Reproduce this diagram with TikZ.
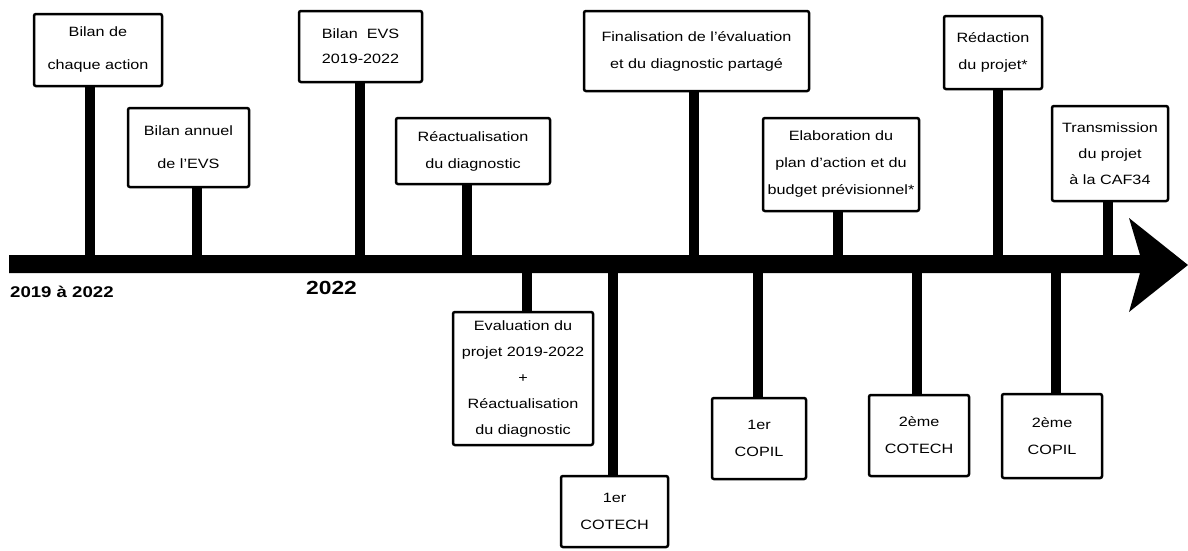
\documentclass[tikz,border=0pt]{standalone}
\usepackage{fontspec}
\setmainfont{Liberation Sans}[FakeStretch=1.2]
\usetikzlibrary{positioning}

\begin{document}
\begin{tikzpicture}[x=1pt,y=-1pt,
    etape/.style={draw,line width=2.5pt,rounded corners=2pt,align=center,inner sep=0pt,
      font=\fontsize{13.5}{27}\selectfont},
    large/.style={font=\fontsize{13.5}{33}\selectfont},
    tige/.style={line width=10pt},
    annee/.style={font=\bfseries\fontsize{15.5}{18}\selectfont,inner sep=0pt}]
    \useasboundingbox (0,0) rectangle (1188,550);

    % axe du temps
    \fill (9,255) -- (1140,255) -- (1129,218) -- (1188,265) -- (1129,312)
      -- (1140,273) -- (9,273) -- cycle;

    \foreach \n/\x in {t1/90,t2/197,t3/360,t4/467,t5/694,t6/838,t7/998,t8/1108,
                       t9/527,t10/613,t11/758,t12/917,t13/1056}
      \coordinate (\n) at (\x,264);

    % au-dessus
    \node[etape,large,minimum width=128pt,minimum height=72pt] (b1) at (98,50) {Bilan de\\chaque action};
    \node[etape,large,minimum width=121pt,minimum height=79pt] (b2) at (188.5,147.5) {Bilan annuel\\de l'EVS};
    \node[etape,minimum width=123pt,minimum height=71pt,font=\fontsize{13.5}{25}\selectfont] (b3) at (360.5,46.5) {Bilan~ EVS\\2019-2022};
    \node[etape,minimum width=154pt,minimum height=66pt] (b4) at (473,151) {Réactualisation\\du diagnostic};
    \node[etape,minimum width=225pt,minimum height=80pt] (b5) at (696.5,51) {Finalisation de l'évaluation\\et du diagnostic partagé};
    \node[etape,minimum width=156pt,minimum height=93pt] (b6) at (841,164.5) {Elaboration du\\plan d'action et du\\budget prévisionnel*};
    \node[etape,minimum width=98pt,minimum height=73pt] (b7) at (993,52.5) {Rédaction\\du projet*};
    \node[etape,minimum width=116pt,minimum height=95pt,font=\fontsize{13.5}{26}\selectfont] (b8) at (1110,153.5) {Transmission\\du projet\\à la CAF34};

    % en dessous
    \node[etape,minimum width=140pt,minimum height=133pt,font=\fontsize{13.5}{26}\selectfont] (b9) at (523,378.5) {Evaluation du\\projet 2019-2022\\+\\Réactualisation\\du diagnostic};
    \node[etape,minimum width=107pt,minimum height=71pt] (b10) at (614.5,511.5) {1er\\COTECH};
    \node[etape,minimum width=94pt,minimum height=81pt] (b11) at (759,438.5) {1er\\COPIL};
    \node[etape,minimum width=100pt,minimum height=81pt] (b12) at (919,435.5) {2ème\\COTECH};
    \node[etape,minimum width=100pt,minimum height=84pt] (b13) at (1052,436) {2ème\\COPIL};

    \path[tige]
      (b1.south -| t1) edge (t1)
      (b2.south -| t2) edge (t2)
      (b3.south -| t3) edge (t3)
      (b4.south -| t4) edge (t4)
      (b5.south -| t5) edge (t5)
      (b6.south -| t6) edge (t6)
      (b7.south -| t7) edge (t7)
      (b8.south -| t8) edge (t8)
      (t9) edge (b9.north -| t9)
      (t10) edge (b10.north -| t10)
      (t11) edge (b11.north -| t11)
      (t12) edge (b12.north -| t12)
      (t13) edge (b13.north -| t13);

    \node[annee,anchor=base west] (p1) at (10,297) {2019 à 2022};
    \node[annee,anchor=base west,font=\bfseries\fontsize{19}{22}\selectfont] (p2) at (306,294) {2022};
\end{tikzpicture}
\end{document}
